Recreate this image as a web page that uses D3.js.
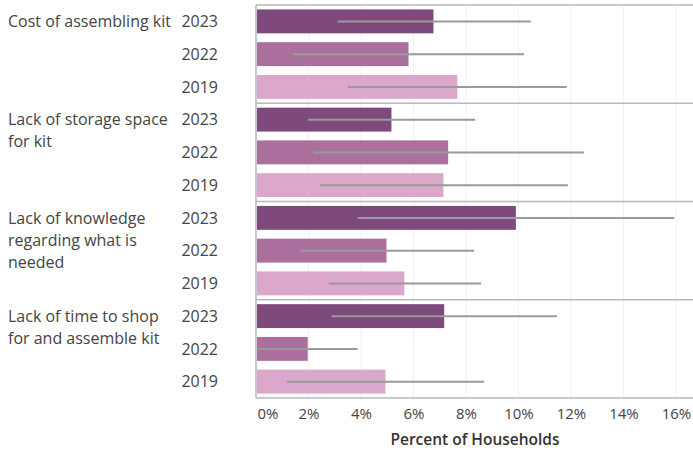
<!DOCTYPE html>
<html>
<head>
<meta charset="utf-8">
<script src="https://cdn.jsdelivr.net/npm/d3@7"></script>
<style>
  body { margin: 0; background: #fff; }
  text { font-family: "Open Sans", sans-serif; fill: #444; }
</style>
</head>
<body>
<svg id="chart" width="693" height="450"></svg>
<script>
(function () {
    'use strict';

    // chart data
    var groupLabels = [
        ["Cost of assembling kit"],
        ["Lack of storage space", "for kit"],
        ["Lack of knowledge", "regarding what is", "needed"],
        ["Lack of time to shop", "for and assemble kit"]
    ];
    var years = ["2023", "2022", "2019"];
    var values = [
        [6.76, 5.81, 7.67],
        [5.16, 7.32, 7.14],
        [9.90, 4.97, 5.65],
        [7.17, 1.97, 4.93]
    ];
    var lower = [
        [3.11, 1.40, 3.49],
        [1.97, 2.17, 2.43],
        [3.87, 1.67, 2.77],
        [2.88, 0.05, 1.18]
    ];
    var upper = [
        [10.47, 10.21, 11.84],
        [8.35, 12.49, 11.88],
        [15.94, 8.31, 8.58],
        [11.46, 3.87, 8.69]
    ];
    var ticks = [0, 2, 4, 6, 8, 10, 12, 14, 16];
    var colors = { "2023": "#7d4a7b", "2022": "#aa6f9d", "2019": "#dba7cb" };

    var svg = d3.select("#chart"),
        margin = { top: 5, right: 0, bottom: 52, left: 256 },
        width = +svg.attr("width") - margin.left - margin.right,
        height = +svg.attr("height") - margin.top - margin.bottom,
        g = svg.append("g").attr("transform", "translate(" + margin.left + "," + margin.top + ")");

    // flatten to one row per group/year
    var rows = [];
    groupLabels.forEach(function (lab, gi) {
        years.forEach(function (yr, yi) {
            rows.push({
                key: gi + "-" + yr,
                group: gi,
                year: yr,
                value: values[gi][yi],
                lo: lower[gi][yi],
                hi: upper[gi][yi]
            });
        });
    });

    var x = d3.scaleLinear().domain([0, 16]).range([0, 420]);
    var y = d3.scaleBand()
        .domain(rows.map(function (d) { return d.key; }))
        .range([0, height])
        .paddingInner(0.27)
        .paddingOuter(0.135);
    var step = y.step();

    // gridlines
    g.append("g")
        .selectAll("line")
        .data(ticks.slice(1))
        .enter().append("line")
        .attr("x1", function (d) { return x(d); })
        .attr("x2", function (d) { return x(d); })
        .attr("y1", 0)
        .attr("y2", height)
        .attr("stroke", "#f1f1f1")
        .attr("stroke-width", 1);

    // bars
    g.append("g")
        .selectAll("rect")
        .data(rows)
        .enter().append("rect")
        .attr("x", 1)
        .attr("y", function (d) { return y(d.key); })
        .attr("width", function (d) { return x(d.value) - 1; })
        .attr("height", y.bandwidth())
        .attr("fill", function (d) { return colors[d.year]; });

    // error bars
    g.append("g")
        .selectAll("line")
        .data(rows)
        .enter().append("line")
        .attr("x1", function (d) { return x(d.lo); })
        .attr("x2", function (d) { return x(d.hi); })
        .attr("y1", function (d) { return y(d.key) + y.bandwidth() / 2; })
        .attr("y2", function (d) { return y(d.key) + y.bandwidth() / 2; })
        .attr("stroke", "#9a9a9a")
        .attr("stroke-width", 2);

    // group separators + frame
    var seps = d3.range(0, groupLabels.length + 1).map(function (i) { return i * step * years.length; });
    svg.append("g")
        .selectAll("line")
        .data(seps)
        .enter().append("line")
        .attr("x1", margin.left)
        .attr("x2", 693)
        .attr("y1", function (d) { return margin.top + d; })
        .attr("y2", function (d) { return margin.top + d; })
        .attr("stroke", "#b8b8b8")
        .attr("stroke-width", 1.5);

    g.append("line")
        .attr("x1", 0).attr("x2", 0)
        .attr("y1", 0).attr("y2", height)
        .attr("stroke", "#b8b8b8")
        .attr("stroke-width", 1.5);

    // year labels
    svg.append("g")
        .selectAll("text")
        .data(rows)
        .enter().append("text")
        .attr("x", 218)
        .attr("y", function (d) { return margin.top + y(d.key) + y.bandwidth() / 2; })
        .attr("dy", "0.36em")
        .attr("text-anchor", "end")
        .style("font-size", "16px")
        .text(function (d) { return d.year; });

    // group labels
    groupLabels.forEach(function (lines, gi) {
        var y0 = margin.top + y(gi + "-" + years[0]) + y.bandwidth() / 2;
        svg.append("text")
            .attr("x", 8)
            .attr("y", y0)
            .style("font-size", "16px")
            .selectAll("tspan")
            .data(lines)
            .enter().append("tspan")
            .attr("x", 8)
            .attr("y", function (d, i) { return y0 + i * 22; })
            .attr("dy", "0.36em")
            .text(function (d) { return d; });
    });

    // x axis
    var axis = g.append("g")
        .attr("transform", "translate(0," + height + ")")
        .call(d3.axisBottom(x).tickValues(ticks).tickSize(0).tickPadding(10)
            .tickFormat(function (d) { return d + "%"; }));
    axis.select(".domain").remove();
    axis.selectAll("text")
        .style("font-size", "15px")
        .style("fill", "#444")
        .attr("text-anchor", function (d) { return d === 0 ? "start" : "middle"; })
        .attr("dx", function (d) { return d === 0 ? "1px" : "0"; });

    svg.append("text")
        .attr("x", 475)
        .attr("y", 445)
        .attr("text-anchor", "middle")
        .style("font-size", "15.5px")
        .style("font-weight", "600")
        .style("fill", "#333")
        .text("Percent of Households");
})();
</script>
</body>
</html>
